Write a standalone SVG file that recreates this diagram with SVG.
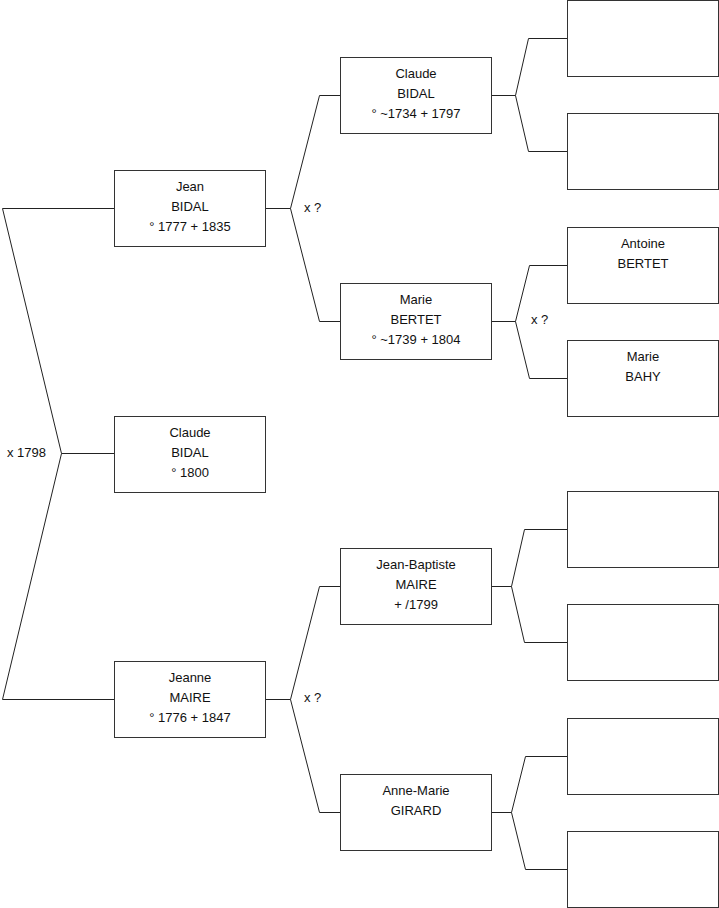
<svg xmlns="http://www.w3.org/2000/svg" width="719" height="908" viewBox="0 0 719 908">
<style>
.box{fill:#fff;stroke:#333;stroke-width:1}
.ln{fill:none;stroke:#222;stroke-width:1}
text{font-family:"Liberation Sans",Arial,sans-serif;font-size:13px;fill:#111}
.c{text-anchor:middle}
</style>
<rect width="719" height="908" fill="#fff"/>
<g id="connectors">
<path class="ln" d="M2.5,208.5 H114.5 M2.5,208.5 L61.5,453.5 L2.5,699.5 H114.5 M61.5,453.5 H114.5"/>
<path class="ln" d="M265.5,208.5 H290.5 L319.5,95.5 H340.5 M290.5,208.5 L319.5,321.5 H340.5"/>
<path class="ln" d="M265.5,699.5 H290.5 L319.5,586.5 H340.5 M290.5,699.5 L319.5,812.5 H340.5"/>
<path class="ln" d="M491.5,95.5 H515.5 L528.5,38.5 H567.5 M515.5,95.5 L528.5,151.5 H567.5"/>
<path class="ln" d="M491.5,321.5 H515.5 L529.5,265.5 H567.5 M515.5,321.5 L529.5,378.5 H567.5"/>
<path class="ln" d="M491.5,586.5 H511.5 L524.5,529.5 H567.5 M511.5,586.5 L524.5,642.5 H567.5"/>
<path class="ln" d="M491.5,812.5 H511.5 L525.5,756.5 H567.5 M511.5,812.5 L525.5,869.5 H567.5"/>
<text x="7" y="456.5">x 1798</text>
<text x="304" y="211.5">x ?</text>
<text x="304" y="701.5">x ?</text>
<text x="531" y="324">x ?</text>
</g>
<g id="jean">
<rect class="box" x="114.5" y="170.5" width="151" height="76"/>
<text class="c" x="190" y="191">Jean</text>
<text class="c" x="190" y="210.5">BIDAL</text>
<text class="c" x="190" y="230.5">° 1777 + 1835</text>
</g>
<g id="claude-child">
<rect class="box" x="114.5" y="416.5" width="151" height="76"/>
<text class="c" x="190" y="437">Claude</text>
<text class="c" x="190" y="456.5">BIDAL</text>
<text class="c" x="190" y="476.5">° 1800</text>
</g>
<g id="jeanne">
<rect class="box" x="114.5" y="661.5" width="151" height="76"/>
<text class="c" x="190" y="682">Jeanne</text>
<text class="c" x="190" y="701.5">MAIRE</text>
<text class="c" x="190" y="721.5">° 1776 + 1847</text>
</g>
<g id="claude-bidal">
<rect class="box" x="340.5" y="57.5" width="151" height="76"/>
<text class="c" x="416" y="78">Claude</text>
<text class="c" x="416" y="97.5">BIDAL</text>
<text class="c" x="416" y="117.5">° ~1734 + 1797</text>
</g>
<g id="marie-bertet">
<rect class="box" x="340.5" y="283.5" width="151" height="76"/>
<text class="c" x="416" y="304">Marie</text>
<text class="c" x="416" y="323.5">BERTET</text>
<text class="c" x="416" y="343.5">° ~1739 + 1804</text>
</g>
<g id="jean-baptiste">
<rect class="box" x="340.5" y="548.5" width="151" height="76"/>
<text class="c" x="416" y="569">Jean-Baptiste</text>
<text class="c" x="416" y="588.5">MAIRE</text>
<text class="c" x="416" y="608.5">+ /1799</text>
</g>
<g id="anne-marie">
<rect class="box" x="340.5" y="774.5" width="151" height="76"/>
<text class="c" x="416" y="795">Anne-Marie</text>
<text class="c" x="416" y="814.5">GIRARD</text>
</g>
<g id="gg1"><rect class="box" x="567.5" y="0.5" width="151" height="76"/></g>
<g id="gg2"><rect class="box" x="567.5" y="113.5" width="151" height="76"/></g>
<g id="antoine">
<rect class="box" x="567.5" y="227.5" width="151" height="76"/>
<text class="c" x="643" y="248">Antoine</text>
<text class="c" x="643" y="267.5">BERTET</text>
</g>
<g id="marie-bahy">
<rect class="box" x="567.5" y="340.5" width="151" height="76"/>
<text class="c" x="643" y="361">Marie</text>
<text class="c" x="643" y="380.5">BAHY</text>
</g>
<g id="gg5"><rect class="box" x="567.5" y="491.5" width="151" height="76"/></g>
<g id="gg6"><rect class="box" x="567.5" y="604.5" width="151" height="76"/></g>
<g id="gg7"><rect class="box" x="567.5" y="718.5" width="151" height="76"/></g>
<g id="gg8"><rect class="box" x="567.5" y="831.5" width="151" height="76"/></g>
</svg>
